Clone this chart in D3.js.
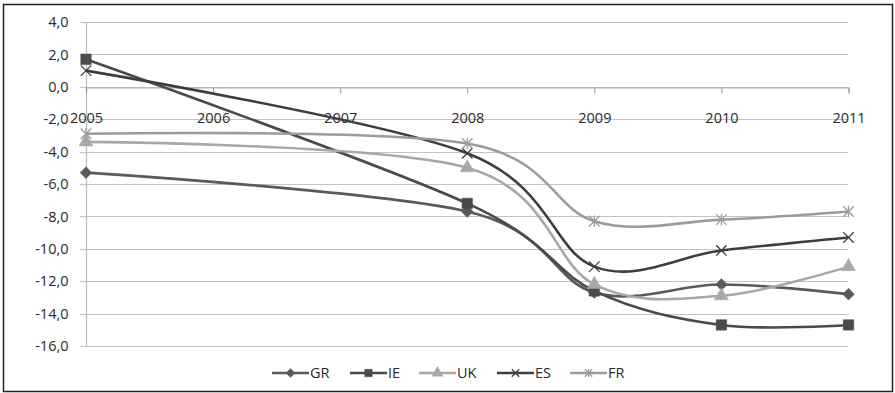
<!DOCTYPE html>
<html>
<head>
<meta charset="utf-8">
<script src="https://cdn.jsdelivr.net/npm/d3@7"></script>
<style>
  html, body { margin: 0; padding: 0; background: #fff; }
  svg { display: block; }
  text { font-family: "Open Sans", "Liberation Sans", sans-serif; fill: #2a2a2a; }
</style>
</head>
<body>
<svg id="chart" width="895" height="393"></svg>
<script>
// ---- data ----
const years = ["2005", "2006", "2007", "2008", "2009", "2010", "2011"];
const GR = [-5.3, null, null, -7.7, -12.7, -12.2, -12.8];
const IE = [1.7, null, null, -7.2, -12.6, -14.7, -14.7];
const UK = [-3.4, null, null, -5.0, -12.2, -12.9, -11.1];
const ES = [1.0, null, null, -4.1, -11.1, -10.1, -9.3];
const FR = [-2.9, null, null, -3.5, -8.3, -8.2, -7.7];
const seriesNames = ["GR", "IE", "UK", "ES", "FR"];
const yTicks = [4, 2, 0, -2, -4, -6, -8, -10, -12, -14, -16];

// ---- styles ----
const styles = {
  GR: { color: "#5a5a5a", marker: "diamond" },
  IE: { color: "#4a4a4a", marker: "square" },
  UK: { color: "#a8a8a8", marker: "triangle" },
  ES: { color: "#3e3e3e", marker: "x" },
  FR: { color: "#9c9c9c", marker: "star" }
};
const seriesData = { GR, IE, UK, ES, FR };

const svg = d3.select("#chart");

// outer border
svg.append("rect").attr("x", 3.5).attr("y", 4.5).attr("width", 889).attr("height", 387)
  .attr("fill", "#fff").attr("stroke", "#222").attr("stroke-width", 1.5);

const x = d3.scalePoint().domain(years).range([86, 848.5]);
const y = d3.scaleLinear().domain([-16, 4]).range([346, 22]);

// gridlines
svg.append("g").selectAll("line").data(yTicks).join("line")
  .attr("x1", 80).attr("x2", 848.5)
  .attr("y1", d => Math.round(y(d)) + 0.5).attr("y2", d => Math.round(y(d)) + 0.5)
  .attr("stroke", "#c4c4c4").attr("stroke-width", 1.2);

// vertical axis line
svg.append("line").attr("x1", 86.5).attr("x2", 86.5).attr("y1", y(4)).attr("y2", y(-16))
  .attr("stroke", "#bdbdbd").attr("stroke-width", 1.2);

// y axis labels
const yAxis = d3.axisLeft(y).tickValues(yTicks).tickSize(0).tickPadding(0)
  .tickFormat(d => d3.format(".1f")(d).replace(".", ",").replace("−", "-"));
const gy = svg.append("g").attr("transform", "translate(68.5,0)").call(yAxis);
gy.select(".domain").remove();
gy.selectAll("text").style("font-size", "14.5px").attr("fill", "#2a2a2a")
  .style("font-family", "'Open Sans', sans-serif");

// x axis along zero line
const xAxis = d3.axisBottom(x).tickSize(6).tickPadding(19);
const gx = svg.append("g").attr("transform", `translate(0,${Math.round(y(0)) + 0.5})`).call(xAxis);
gx.select(".domain").attr("stroke", "#b0b0b0").attr("stroke-width", 1.2);
gx.selectAll(".tick line").attr("stroke", "#9a9a9a");
gx.selectAll("text").style("font-size", "14.5px").attr("fill", "#2a2a2a")
  .style("font-family", "'Open Sans', sans-serif");

// marker shapes
const starType = {
  draw(ctx, size) {
    const r = Math.sqrt(size) / 2;
    ctx.moveTo(-r, -r); ctx.lineTo(r, r);
    ctx.moveTo(-r, r); ctx.lineTo(r, -r);
    ctx.moveTo(0, -r * 1.1); ctx.lineTo(0, r * 1.1);
  }
};
const xType = {
  draw(ctx, size) {
    const r = Math.sqrt(size) / 2;
    ctx.moveTo(-r, -r); ctx.lineTo(r, r);
    ctx.moveTo(-r, r); ctx.lineTo(r, -r);
  }
};
const diamondType = {
  draw(ctx, size) {
    const r = Math.sqrt(size / 2);
    ctx.moveTo(0, -r); ctx.lineTo(r, 0); ctx.lineTo(0, r); ctx.lineTo(-r, 0); ctx.closePath();
  }
};
function markerPath(kind, size) {
  if (kind === "diamond") return d3.symbol(diamondType, size || 70)();
  if (kind === "square") return d3.symbol(d3.symbolSquare, size || 110)();
  if (kind === "triangle") return d3.symbol(d3.symbolTriangle, size || 85)();
  if (kind === "x") return d3.symbol(xType, size || 110)();
  return d3.symbol(starType, size || 110)();
}
function drawMarker(g, kind, color, cx, cy, size) {
  const filled = kind === "diamond" || kind === "square" || kind === "triangle";
  g.append("path").attr("d", markerPath(kind, size))
    .attr("transform", `translate(${cx},${cy})`)
    .attr("fill", filled ? color : "none")
    .attr("stroke", color).attr("stroke-width", filled ? 0.5 : 1.3);
}

const line = d3.line().x(d => x(d.year)).y(d => y(d.value)).curve(d3.curveCardinal.tension(0));

seriesNames.forEach(name => {
  const st = styles[name];
  const pts = years.map((yr, i) => ({ year: yr, value: seriesData[name][i] }))
    .filter(d => d.value !== null);
  const g = svg.append("g");
  g.append("path").datum(pts).attr("d", line)
    .attr("fill", "none").attr("stroke", st.color).attr("stroke-width", 2.6)
    .attr("stroke-linejoin", "round");
  pts.forEach(p => drawMarker(g, st.marker, st.color, x(p.year), y(p.value)));
});

// legend
const legendItems = [
  { name: "GR", x0: 272 },
  { name: "IE", x0: 350 },
  { name: "UK", x0: 419 },
  { name: "ES", x0: 497 },
  { name: "FR", x0: 570 }
];
const ly = 373;
legendItems.forEach(it => {
  const st = styles[it.name];
  const g = svg.append("g");
  g.append("line").attr("x1", it.x0).attr("x2", it.x0 + 37).attr("y1", ly).attr("y2", ly)
    .attr("stroke", st.color).attr("stroke-width", 2.6);
  drawMarker(g, st.marker, st.color, it.x0 + 18.5, ly, st.marker === "diamond" ? 40 : 55);
  g.append("text").attr("x", it.x0 + 38).attr("y", ly).attr("dy", "0.35em")
    .style("font-size", "14.5px").text(it.name);
});
</script>
</body>
</html>
